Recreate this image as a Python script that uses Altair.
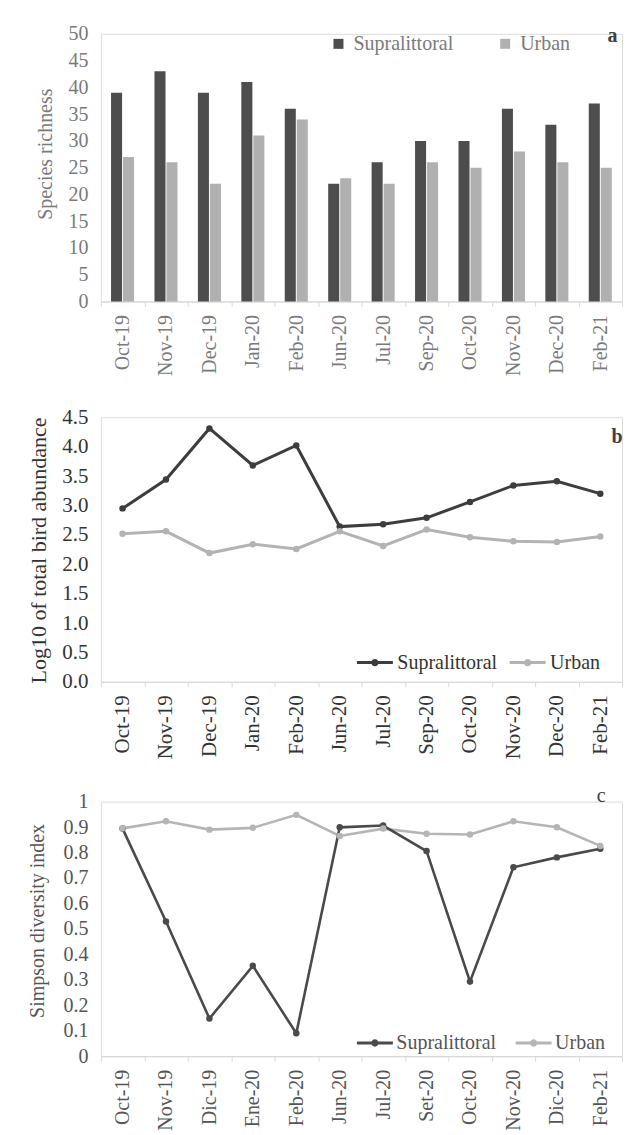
import altair as alt
import pandas as pd

months_ab = ["Oct-19", "Nov-19", "Dec-19", "Jan-20", "Feb-20", "Jun-20",
             "Jul-20", "Sep-20", "Oct-20", "Nov-20", "Dec-20", "Feb-21"]
months_c = ["Oct-19", "Nov-19", "Dic-19", "Ene-20", "Feb-20", "Jun-20",
            "Jul-20", "Set-20", "Oct-20", "Nov-20", "Dic-20", "Feb-21"]
series = ["Supralittoral", "Urban"]

rich_supra = [39, 43, 39, 41, 36, 22, 26, 30, 30, 36, 33, 37]
rich_urban = [27, 26, 22, 31, 34, 23, 22, 26, 25, 28, 26, 25]

abund_supra = [2.95, 3.44, 4.31, 3.68, 4.02, 2.64, 2.68, 2.79, 3.06, 3.34, 3.41, 3.20]
abund_urban = [2.52, 2.56, 2.19, 2.34, 2.26, 2.56, 2.31, 2.59, 2.46, 2.39, 2.38, 2.47]

simp_supra = [0.894, 0.529, 0.148, 0.355, 0.090, 0.899, 0.906, 0.806, 0.293, 0.742, 0.781, 0.815]
simp_urban = [0.895, 0.923, 0.890, 0.897, 0.948, 0.865, 0.894, 0.874, 0.871, 0.923, 0.899, 0.826]

tags = ["a", "b", "c"]


def long_df(months, supra, urban):
    return pd.DataFrame({
        "month": months * 2,
        "habitat": [series[1]] * len(urban) + [series[0]] * len(supra),
        "value": list(urban) + list(supra),
        "order": [1] * len(urban) + [0] * len(supra),
    })


FONT = "'Liberation Serif', 'Times New Roman', Times, serif"
W = 522
LINE_SYM = "M-1,0L-0.13,0M0.13,0L1,0M-0.12,0A0.12,0.12,0,1,1,0.12,0A0.12,0.12,0,1,1,-0.12,0"


def x_axis(color, size):
    return alt.Axis(title=None, labelAngle=270, labelFont=FONT, labelFontSize=size,
                    labelColor=color, labelPadding=8, tickBand="extent", ticks=True,
                    tickSize=5, tickColor="#d9d9d9", domainColor="#d9d9d9",
                    domainWidth=1.2, grid=False)


def y_axis(title, values, fmt, color, tsize, lsize, tx, ty):
    return alt.Axis(title=title, values=values, format=fmt, labelFont=FONT,
                    labelFontSize=lsize, labelColor=color, labelPadding=13,
                    ticks=False, domain=False, grid=False, titleFont=FONT,
                    titleFontSize=tsize, titleColor=color, titleFontWeight="normal",
                    titleX=tx, titleY=ty, titleAngle=270)


# ---- panel a
col_a = "#7a7a7a"
dfa = long_df(months_ab, rich_supra, rich_urban)
panel_a = alt.Chart(dfa).mark_bar().encode(
    x=alt.X("month:N", sort=months_ab,
            scale=alt.Scale(paddingInner=0, paddingOuter=0),
            axis=x_axis(col_a, 20)),
    xOffset=alt.XOffset("habitat:N", sort=series,
                        scale=alt.Scale(paddingInner=0.08, paddingOuter=0.85)),
    y=alt.Y("value:Q", scale=alt.Scale(domain=[0, 50]),
            axis=y_axis("Species richness", list(range(0, 51, 5)), "d",
                        col_a, 20, 20, -45, 120)),
    color=alt.Color("habitat:N",
                    scale=alt.Scale(domain=series, range=["#4d4d4d", "#b0b0b0"]),
                    legend=alt.Legend(title=None, orient="none", direction="horizontal",
                                      legendX=228, legendY=0, symbolType="square",
                                      symbolSize=100, labelFont=FONT, labelFontSize=20,
                                      labelColor=col_a, labelOffset=5,
                                      columnPadding=42, padding=0)),
).properties(
    width=W, height=268,
    title=alt.TitleParams(tags[0], anchor="end", offset=-22, dx=-5, font=FONT,
                          fontSize=20, fontWeight="bold", color="#404040"),
)


def line_panel(months, supra, urban, ytitle, yvals, fmt, domain, col, tsize, lsize,
               tx, ty, h, sw, lx, ly, cp, lo, tag, toff, tdx, tw, dark, light):
    df = long_df(months, supra, urban)
    return alt.Chart(df).mark_line(
        strokeWidth=sw,
        point=alt.OverlayMarkDef(filled=True, size=42),
    ).encode(
        x=alt.X("month:N", sort=months,
                scale=alt.Scale(type="band", paddingInner=0, paddingOuter=0),
                axis=x_axis(col, lsize)),
        y=alt.Y("value:Q", scale=alt.Scale(domain=domain),
                axis=y_axis(ytitle, yvals, fmt, col, tsize, lsize, tx, ty)),
        color=alt.Color("habitat:N",
                        scale=alt.Scale(domain=series, range=[dark, light]),
                        legend=alt.Legend(title=None, orient="none", direction="horizontal",
                                          legendX=lx, legendY=ly, symbolType=LINE_SYM,
                                          symbolSize=1296, symbolStrokeWidth=3,
                                          labelFont=FONT, labelFontSize=20,
                                          labelColor=col, labelOffset=lo,
                                          columnPadding=cp, padding=0)),
        order=alt.Order("order:Q"),
    ).properties(
        width=W, height=h,
        title=alt.TitleParams(tag, anchor="end", offset=toff, dx=tdx, font=FONT,
                              fontSize=20, fontWeight=tw, color="#404040"),
    )


panel_b = line_panel(months_ab, abund_supra, abund_urban,
                     "Log10 of total bird abundance",
                     [i / 2 for i in range(10)], ".1f", [0, 4.5],
                     "#333333", 22, 21, -50, 133, 265, 3, 255, 226, 6, 3,
                     tags[1], -41, 0, "bold", "#3d3d3d", "#b3b3b3")

panel_c = line_panel(months_c, simp_supra, simp_urban,
                     "Simpson diversity index",
                     [i / 10 for i in range(11)], "~g", [0, 1],
                     "#555555", 20, 20, -53, 119, 255, 2.6, 255, 222, 13, 2,
                     tags[2], -14, -17, "normal", "#4a4a4a", "#b5b5b5")

bc = alt.vconcat(panel_b, panel_c, spacing=25).resolve_scale(
    color="independent", x="independent", y="independent"
).resolve_legend(color="independent")

chart = alt.vconcat(panel_a, bc, spacing=29).resolve_scale(
    color="independent", x="independent", y="independent"
).resolve_legend(color="independent").properties(
    padding={"left": 19, "top": 14, "right": 0, "bottom": 0}
).configure_view(stroke=None).configure(background="white")

chart.save("out.html", embed_options={"renderer": "svg", "actions": False})
